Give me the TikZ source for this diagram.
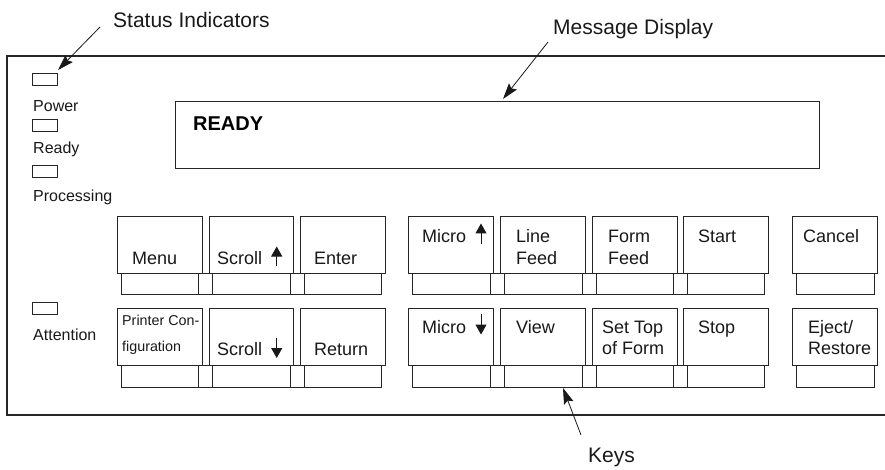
\documentclass[tikz,border=0pt]{standalone}
\usepackage{fontspec}
\setmainfont{Liberation Sans}
\usetikzlibrary{arrows.meta,calc}
\begin{document}
\begin{tikzpicture}[x=1pt,y=-1pt,
  ln/.style={draw=black!85,line width=0.9pt},
  keytop/.style={ln,fill=white,anchor=north west,minimum width=85pt,minimum height=57pt,inner sep=0pt,outer sep=0pt},
  led/.style={ln,anchor=north west,minimum width=25pt,minimum height=12pt,inner sep=0pt},
  keylbl/.style={anchor=base west,inner sep=0pt,font=\fontsize{18}{21}\selectfont,align=left,text=black!90},
  smlbl/.style={anchor=base west,inner sep=0pt,font=\fontsize{16}{19}\selectfont,text=black!90},
  calllbl/.style={anchor=base west,inner sep=0pt,font=\fontsize{21}{24}\selectfont,text=black!90},
  callout/.style={draw=black!90,line width=0.8pt,-{Stealth[length=16pt,width=10pt,inset=2.5pt]}},
  keyarrow/.style={draw=black!90,line width=1pt,-{Triangle[length=10pt,width=11pt]}}
]
\useasboundingbox (0,0) rectangle (885,470);
% panel
\draw[draw=black!85,line width=1.1pt] (885,56) -- (7,56) -- (7,415) -- (885,415);

% status LEDs
\node[led] (ledpow) at (32,73) {};
\node[led] (ledrdy) at (32,119) {};
\node[led] (ledproc) at (32,165) {};
\node[led] (ledatt) at (32,302) {};
\node[smlbl] (tpow) at (33,111.5) {Power};
\node[smlbl] (trdy) at (33,154) {Ready};
\node[smlbl] (tproc) at (33,201.5) {Processing};
\node[smlbl] (tatt) at (33,340) {Attention};

% message display
\node[ln,anchor=north west,minimum width=644pt,minimum height=67pt,inner sep=0pt] (disp) at (175,101) {};
\node[anchor=base west,inner sep=0pt,font=\bfseries\fontsize{20}{24}\selectfont] (ready) at (193,131) {READY};

% key bases
\draw[ln] (121,273) rectangle (381,294);
\draw[ln] (198,273)--(198,294) (212,273)--(212,294) (290,273)--(290,294) (304,273)--(304,294);
\draw[ln] (121,365) rectangle (381,387);
\draw[ln] (198,365)--(198,387) (212,365)--(212,387) (290,365)--(290,387) (304,365)--(304,387);
\draw[ln] (412,273) rectangle (764,294);
\draw[ln] (490,273)--(490,294) (504,273)--(504,294) (582,273)--(582,294) (596,273)--(596,294) (673,273)--(673,294) (687,273)--(687,294);
\draw[ln] (412,365) rectangle (764,387);
\draw[ln] (490,365)--(490,387) (504,365)--(504,387) (582,365)--(582,387) (596,365)--(596,387) (673,365)--(673,387) (687,365)--(687,387);
\draw[ln] (796,273) rectangle (874,294);
\draw[ln] (796,365) rectangle (874,387);

% key tops row 1
\node[keytop] (kmenu) at (117,216) {};
\node[keytop,minimum width=84pt] (kscru) at (209,216) {};
\node[keytop] (kenter) at (300,216) {};
\node[keytop] (kmicu) at (408,216) {};
\node[keytop] (klf) at (500,216) {};
\node[keytop] (kff) at (592,216) {};
\node[keytop] (kstart) at (683,216) {};
\node[keytop] (kcancel) at (792,216) {};
% key tops row 2
\node[keytop] (kconf) at (117,308) {};
\node[keytop,minimum width=84pt] (kscrd) at (209,308) {};
\node[keytop] (kret) at (300,308) {};
\node[keytop] (kmicd) at (408,308) {};
\node[keytop] (kview) at (500,308) {};
\node[keytop] (ktof) at (592,308) {};
\node[keytop] (kstop) at (683,308) {};
\node[keytop] (keject) at (792,308) {};

% key labels
\node[keylbl] at (132,264) {Menu};
\node[keylbl] at (217,264) {Scroll};
\node[keylbl] at (314,264) {Enter};
\node[keylbl] at (422,242.5) {Micro};
\node[keylbl] at (516,264) {Line\\Feed};
\node[keylbl] at (608,264) {Form\\Feed};
\node[keylbl] at (698,242.5) {Start};
\node[keylbl] at (803,242.5) {Cancel};

\node[anchor=base west,inner sep=0pt,font=\fontsize{14.3}{26}\selectfont,align=left,text=black!90] at (122,351.7) {Printer Con-\\figuration};
\node[keylbl] at (217,355) {Scroll};
\node[keylbl] at (314,355) {Return};
\node[keylbl] at (422,333) {Micro};
\node[keylbl] at (516,333) {View};
\node[keylbl] at (602,354) {Set Top\\of Form};
\node[keylbl] at (698,333) {Stop};
\node[keylbl] at (808,354) {Eject/\\Restore};

% key arrows
\draw[keyarrow] (276.7,266) -- (276.7,246.5);
\draw[keyarrow] (276.7,338) -- (276.7,358);
\draw[keyarrow] (481,244) -- (481,223.5);
\draw[keyarrow] (481,314) -- (481,334.5);

% callouts
\node[calllbl] (tstatus) at (113,27.5) {Status Indicators};
\node[calllbl] (tmsg) at (553,35) {Message Display};
\node[calllbl] (tkeys) at (588,462.5) {Keys};
\coordinate (cs1) at (100,27);
\coordinate (cs2) at (58,70);
\coordinate (cm1) at (548,42);
\coordinate (cm2) at (503,99);
\coordinate (ck1) at (581,435);
\coordinate (ck2) at (563,388);
\draw[callout] (cs1) -- (cs2);
\draw[callout] (cm1) -- (cm2);
\draw[callout] (ck1) -- (ck2);
\end{tikzpicture}
\end{document}
